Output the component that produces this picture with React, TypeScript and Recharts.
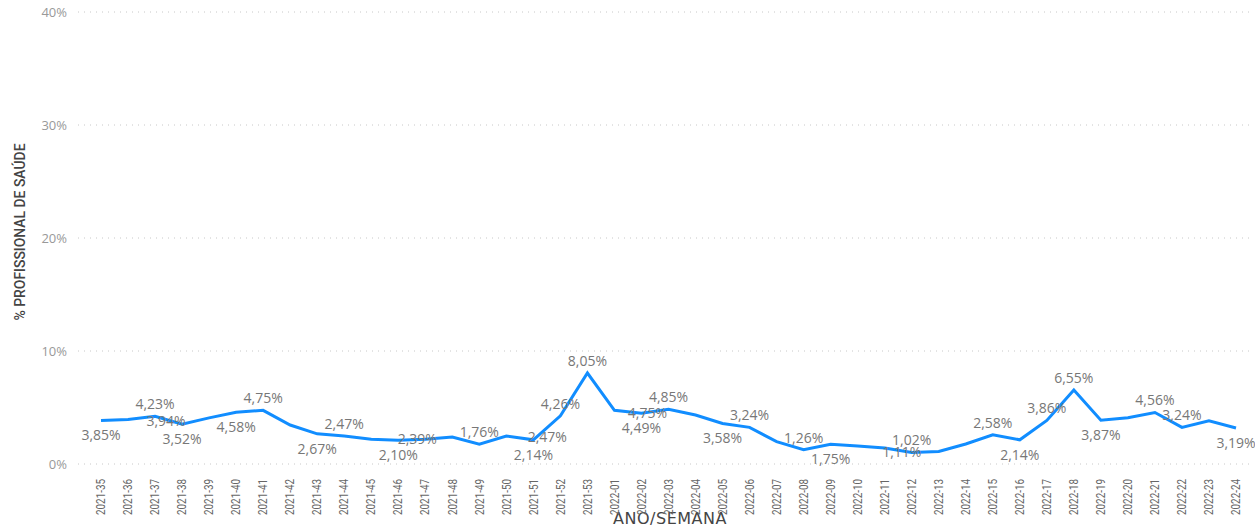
import { LineChart, Line, XAxis, YAxis, CartesianGrid, LabelList, Label } from "recharts";

const weeks2021 = [
  "2021-35", "2021-36", "2021-37", "2021-38", "2021-39", "2021-40", "2021-41",
  "2021-42", "2021-43", "2021-44", "2021-45", "2021-46", "2021-47", "2021-48",
  "2021-49", "2021-50", "2021-51", "2021-52", "2021-53",
];
const weeks2022 = [
  "2022-01", "2022-02", "2022-03", "2022-04", "2022-05", "2022-06", "2022-07",
  "2022-08", "2022-09", "2022-10", "2022-11", "2022-12", "2022-13", "2022-14",
  "2022-15", "2022-16", "2022-17", "2022-18", "2022-19", "2022-20", "2022-21",
  "2022-22", "2022-23", "2022-24",
];
const pct2021 = [
  3.85, 3.94, 4.23, 3.52, 4.08, 4.58, 4.75, 3.45, 2.67, 2.47, 2.2, 2.1, 2.18,
  2.39, 1.76, 2.47, 2.14, 4.26, 8.05,
];
const pct2022 = [
  4.75, 4.49, 4.85, 4.34, 3.58, 3.24, 1.98, 1.26, 1.75, 1.6, 1.42, 1.02, 1.11,
  1.77, 2.58, 2.14, 3.86, 6.55, 3.87, 4.1, 4.56, 3.24, 3.83, 3.19,
];
const yTicks = [0, 10, 20, 30, 40];

// which weeks show a data label, and where power bi put it
const labelSpot: Record<string, "up" | "down" | [number, number]> = {
  "2021-35": "down", "2021-36": [38, 2], "2021-37": "up", "2021-38": "down",
  "2021-40": "down", "2021-41": "up", "2021-43": "down", "2021-44": "up",
  "2021-46": "down", "2021-48": [-35, 2], "2021-49": "up", "2021-50": [41, 1],
  "2021-51": "down", "2021-52": "up", "2021-53": "up",
  "2022-01": [33, 3], "2022-02": "down", "2022-03": "up", "2022-05": "down",
  "2022-06": "up", "2022-08": "up", "2022-09": "down", "2022-12": "up",
  "2022-13": [-37, 1], "2022-15": "up", "2022-16": "down", "2022-17": "up",
  "2022-18": "up", "2022-19": "down", "2022-21": "up", "2022-22": "up",
  "2022-24": "down",
};

const weeks = [...weeks2021, ...weeks2022];
const pct = [...pct2021, ...pct2022];
const data = weeks.map((w, i) => ({ week: w, pct: pct[i] }));

const fmt = (v: number) => v.toFixed(2).replace(".", ",") + "%";

const WeekTick = (props: any) => {
  const { x, y, payload } = props;
  return (
    <g transform={`translate(${x},${y + 7})`}>
      <text
        transform="rotate(-90)"
        textAnchor="end"
        dy="0.35em"
        fontSize={12}
        fontFamily="Roboto, sans-serif"
        textLength={36}
        lengthAdjust="spacingAndGlyphs"
        fill="#666"
      >
        {payload.value}
      </text>
    </g>
  );
};

const PointLabel = (props: any) => {
  const { x, y, value, index } = props;
  const spot = labelSpot[weeks[index]];
  if (!spot) return null;
  let cx = x;
  let cy = y;
  if (spot === "up") cy = y - 12;
  else if (spot === "down") cy = y + 15;
  else {
    cx = x + spot[0];
    cy = y + spot[1];
  }
  return (
    <text
      x={cx}
      y={cy}
      dy="0.35em"
      textAnchor="middle"
      fontSize={14}
      fontFamily='"Open Sans", sans-serif'
      fill="#777"
    >
      {fmt(value)}
    </text>
  );
};

const XTitle = (props: any) => {
  const { viewBox } = props;
  return (
    <text
      x={viewBox.x + viewBox.width / 2 + 6}
      y={viewBox.y + 54}
      dy="0.35em"
      textAnchor="middle"
      fontSize={16}
      fontFamily='"DejaVu Sans", sans-serif'
      letterSpacing={0.5}
      fill="#444"
    >
      ANO/SEMANA
    </text>
  );
};

const YTitle = () => (
  <text
    transform="translate(20,232) rotate(-90)"
    textAnchor="middle"
    dy="0.35em"
    fontSize={15}
    fontWeight={500}
    fontFamily="Roboto, sans-serif"
    textLength={177}
    lengthAdjust="spacingAndGlyphs"
    fill="#444"
  >
    % PROFISSIONAL DE SAÚDE
  </text>
);

export default function App() {
  return (
    <div style={{ position: "absolute", left: 0, top: 0, width: 1255, height: 528, background: "#fff" }}>
      <LineChart
        width={1255}
        height={528}
        data={data}
        margin={{ top: 12, right: 5, bottom: 16, left: 0 }}
      >
        <CartesianGrid
          vertical={false}
          stroke="#c8c8c8"
          strokeDasharray="1 5"
        />
        <XAxis
          dataKey="week"
          interval={0}
          height={48}
          axisLine={false}
          tickLine={false}
          padding={{ left: 23, right: 14 }}
          tick={<WeekTick />}
        >
          <Label content={<XTitle />} />
        </XAxis>
        <YAxis
          width={78}
          domain={[0, 40]}
          ticks={yTicks}
          axisLine={false}
          tickLine={false}
          tickMargin={5}
          tickFormatter={(v: number) => `${v}%`}
          tick={{ fontSize: 13, fill: "#999", fontFamily: '"Open Sans", sans-serif' }}
        >
          <Label content={<YTitle />} />
        </YAxis>
        <Line
          dataKey="pct"
          stroke="#118DFF"
          strokeWidth={3}
          dot={false}
          activeDot={false}
          isAnimationActive={false}
        >
          <LabelList dataKey="pct" content={<PointLabel />} />
        </Line>
      </LineChart>
    </div>
  );
}
